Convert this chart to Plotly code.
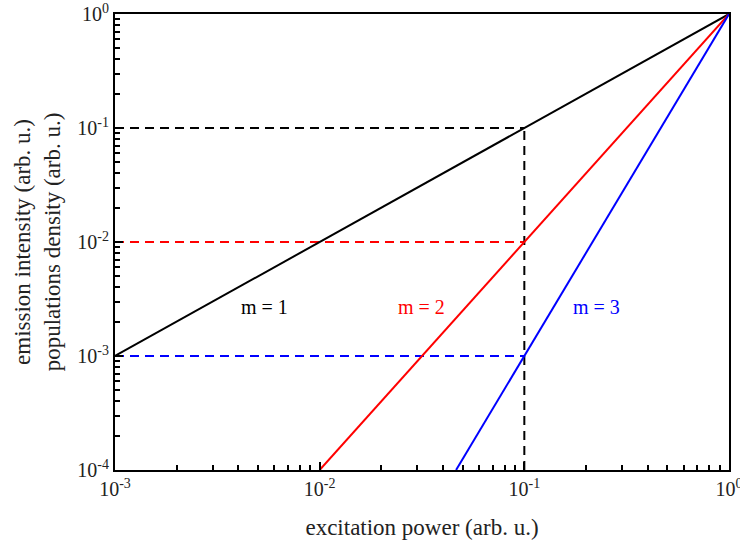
import math
import plotly.graph_objects as go

# Power-law curves I ~ P^m, each drawn between its end points on the log-log axes
m1_x = [1e-3, 1.0]
m1_y = [1e-3, 1.0]
m2_x = [1e-2, 1.0]
m2_y = [1e-4, 1.0]
m3_x = [0.0464, 1.0]
m3_y = [1e-4, 1.0]

# Guide lines at P = 0.1
guide_h_x = [1e-3, 0.1]
guide_black_y = [0.1, 0.1]
guide_red_y = [0.01, 0.01]
guide_blue_y = [1e-3, 1e-3]
guide_v_x = [0.1, 0.1]
guide_v_y = [1e-4, 0.1]

x_tickvals = [1e-3, 1e-2, 1e-1, 1.0]
x_ticktext = ["10<sup>-3</sup>", "10<sup>-2</sup>", "10<sup>-1</sup>", "10<sup>0</sup>"]
y_tickvals = [1e-4, 1e-3, 1e-2, 1e-1, 1.0]
y_ticktext = ["10<sup>-4</sup>", "10<sup>-3</sup>", "10<sup>-2</sup>", "10<sup>-1</sup>", "10<sup>0</sup>"]

labels = ["m = 1", "m = 2", "m = 3"]
label_x = [0.0054, 0.0316, 0.224]
label_y = [0.00269, 0.00269, 0.00269]
colors = ["black", "red", "blue"]

FONT = "Liberation Serif"

fig = go.Figure()

dash_style = dict(width=2, dash="9px,6px")
fig.add_trace(go.Scatter(x=guide_h_x, y=guide_black_y, mode="lines",
                         line=dict(color="black", **dash_style)))
fig.add_trace(go.Scatter(x=guide_h_x, y=guide_red_y, mode="lines",
                         line=dict(color="red", **dash_style)))
fig.add_trace(go.Scatter(x=guide_h_x, y=guide_blue_y, mode="lines",
                         line=dict(color="blue", **dash_style)))
fig.add_trace(go.Scatter(x=guide_v_x, y=guide_v_y, mode="lines",
                         line=dict(color="black", **dash_style)))

for xs, ys, c in [(m1_x, m1_y, "black"), (m2_x, m2_y, "red"), (m3_x, m3_y, "blue")]:
    fig.add_trace(go.Scatter(x=xs, y=ys, mode="lines", line=dict(color=c, width=2)))

# annotations on log axes take log10 coordinates
for t, lx, ly, c in zip(labels, label_x, label_y, colors):
    fig.add_annotation(x=math.log10(lx), y=math.log10(ly), xref="x", yref="y",
                       text=t, showarrow=False,
                       font=dict(family=FONT, size=20, color=c))

axis_common = dict(
    type="log",
    showgrid=False,
    zeroline=False,
    showline=True,
    linecolor="black",
    linewidth=2,
    mirror=True,
    ticks="inside",
    ticklen=8,
    tickwidth=1.5,
    tickcolor="black",
    minor=dict(ticks="inside", ticklen=5, tickwidth=1.5, tickcolor="black",
               dtick="D1", showgrid=False),
    tickfont=dict(family=FONT, size=20, color="#222"),
    title_font=dict(family=FONT, size=23, color="#222"),
    ticklabeloverflow="allow",
    automargin=False,
)

fig.update_xaxes(
    range=[-3, 0],
    tickvals=x_tickvals,
    ticktext=x_ticktext,
    title_text="excitation power (arb. u.)",
    title_standoff=20,
    **axis_common,
)
fig.update_yaxes(
    range=[-4, 0],
    tickvals=y_tickvals,
    ticktext=y_ticktext,
    title_text="emission intensity (arb. u.)<br>populations density (arb. u.)",
    title_standoff=10,
    **axis_common,
)

fig.update_layout(
    width=740,
    height=551,
    margin=dict(l=115, r=11, t=14, b=81),
    showlegend=False,
    plot_bgcolor="white",
    paper_bgcolor="white",
)

fig.write_html("out.html")
